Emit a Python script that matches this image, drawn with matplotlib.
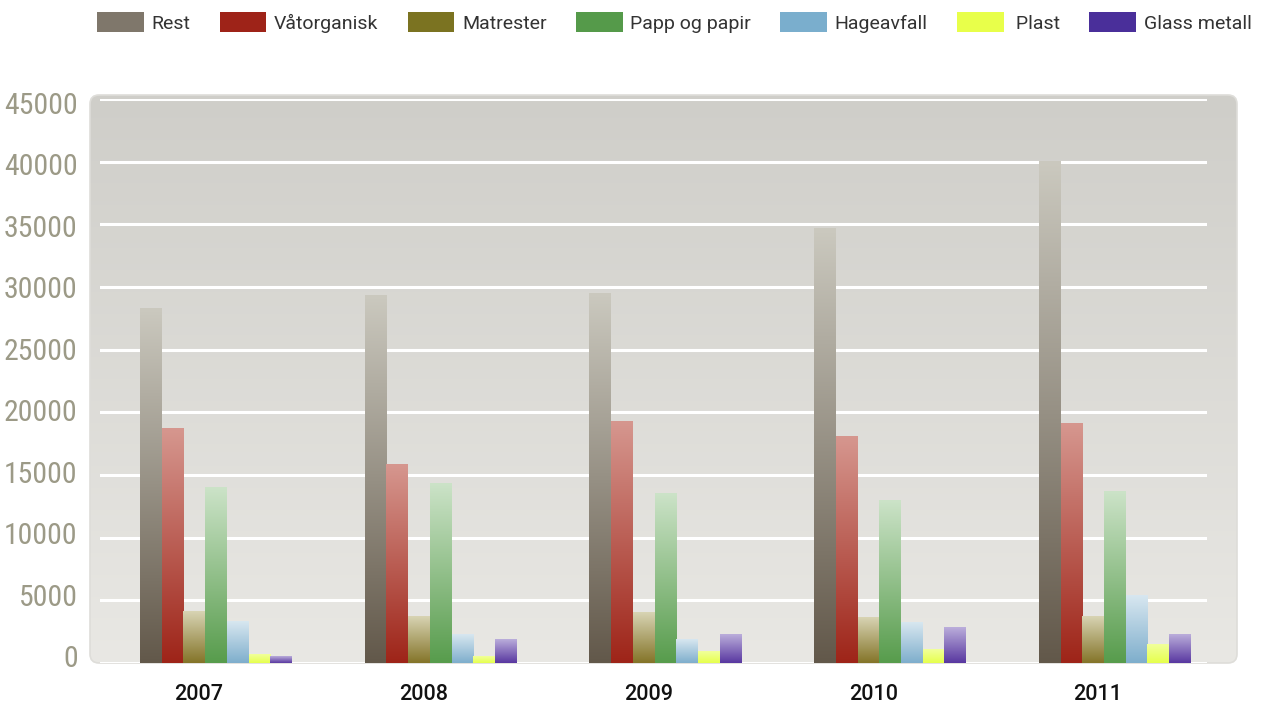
import matplotlib
matplotlib.use("Agg")
import matplotlib.pyplot as plt
import numpy as np
from matplotlib.patches import FancyBboxPatch, Patch
from matplotlib.colors import LinearSegmentedColormap
import matplotlib.transforms as mtransforms

years = ["2007", "2008", "2009", "2010", "2011"]
series = ["Rest", "Våtorganisk", "Matrester", "Papp og papir", "Hageavfall", " Plast", "Glass metall"]
rest = [28300, 29300, 29500, 34700, 40000]
vatorganisk = [18750, 15800, 19250, 18100, 19100]
matrester = [4100, 3750, 4050, 3650, 3750]
papp = [14000, 14300, 13500, 12950, 13650]
hageavfall = [3300, 2300, 1850, 3250, 5400]
plast = [700, 550, 900, 1050, 1500]
glass = [500, 1850, 2250, 2800, 2300]
yticks = [0, 5000, 10000, 15000, 20000, 25000, 30000, 35000, 40000, 45000]

values = [rest, vatorganisk, matrester, papp, hageavfall, plast, glass]
legend_colors = ["#7F776B", "#9E2318", "#7B7321", "#559A4A", "#7AAECD", "#E8FF4A", "#4A2F9A"]
grad_bottom = ["#62584A", "#9E2418", "#847428", "#579C4C", "#7EAECC", "#E6FF4C", "#5837A0"]
grad_top = ["#CBC9BF", "#D6978F", "#D8D4B4", "#CCE3C8", "#D8E7F0", "#F1FF9C", "#BBAEDB"]

W, H = 1263, 707
fig = plt.figure(figsize=(W / 100, H / 100), dpi=100)
fig.patch.set_facecolor("white")

# background rounded panel with vertical gradient
bg = fig.add_axes([0, 0, 1, 1], zorder=0)
bg.set_xlim(0, W)
bg.set_ylim(0, H)
bg.axis("off")
panel = FancyBboxPatch((90, 44), 1147, 568, boxstyle="round,pad=0,rounding_size=9",
                       facecolor="none", edgecolor="#DEDDD9", lw=1.2, transform=bg.transData)
bg.add_patch(panel)
bgcmap = LinearSegmentedColormap.from_list("bg", ["#E9E8E4", "#CFCEC9"])
grad = np.linspace(0, 1, 256).reshape(-1, 1)
im = bg.imshow(grad, extent=(90, 1237, 44, 612), origin="lower", cmap=bgcmap,
               aspect="auto", interpolation="bicubic")
im.set_clip_path(panel)

ax = fig.add_axes([100 / W, 44 / H, 1107 / W, 564 / H], zorder=1)
ax.patch.set_alpha(0)
for s in ax.spines.values():
    s.set_visible(False)

x = np.arange(len(years))
n = len(series)
bw = 0.0966
for j in range(n):
    offs = (j - (n - 1) / 2) * bw
    bars = ax.bar(x + offs, values[j], width=bw, facecolor="none", edgecolor="none", zorder=3)
    cmap = LinearSegmentedColormap.from_list("c%d" % j, [grad_bottom[j], grad_top[j]])
    for r in bars:
        x0, y0 = r.get_x(), r.get_y()
        ax.imshow(grad, extent=(x0, x0 + r.get_width(), y0, y0 + r.get_height()),
                  origin="lower", cmap=cmap, aspect="auto", zorder=3, interpolation="bicubic")

ax.set_xlim(-0.516, 4.41)
ax.set_ylim(0, 45000)
ax.set_yticks(yticks)
ax.set_yticklabels([str(v) for v in yticks])
ax.yaxis.grid(True, color="white", lw=2.2, zorder=1)
ax.set_axisbelow(True)
ax.set_xticks(x)
ax.set_xticklabels(years)
ax.tick_params(axis="both", length=0)
ax.tick_params(axis="y", pad=16, labelsize=21.5, labelcolor="#9C9A87")
ax.tick_params(axis="x", pad=15, labelsize=15.5, labelcolor="#111111")
nt = len(yticks)
for i, lab in enumerate(ax.get_yticklabels()):
    lab.set_fontfamily(["Roboto Condensed", "Roboto", "DejaVu Sans"])
    dy = (7 - 11 * i / (nt - 1)) / 100
    lab.set_transform(lab.get_transform() + mtransforms.ScaledTranslation(0, dy, fig.dpi_scale_trans))
for lab in ax.get_xticklabels():
    lab.set_fontfamily(["Roboto", "DejaVu Sans"])
    lab.set_fontweight(500)
    lab.set_transform(lab.get_transform() + mtransforms.ScaledTranslation(-17 / 100, 0, fig.dpi_scale_trans))

handles = [Patch(facecolor=c, edgecolor="none") for c in legend_colors]
leg = fig.legend(handles, series, loc="upper center", bbox_to_anchor=(674.5 / W, 1 + 5 / H),
                 ncol=7, frameon=False, prop={"family": ["Roboto", "DejaVu Sans"], "size": 14},
                 handlelength=2.4, handleheight=1.15, handletextpad=0.4, columnspacing=1.5)
for t in leg.get_texts():
    t.set_color("#333333")

fig.savefig("out.png", dpi=100)
